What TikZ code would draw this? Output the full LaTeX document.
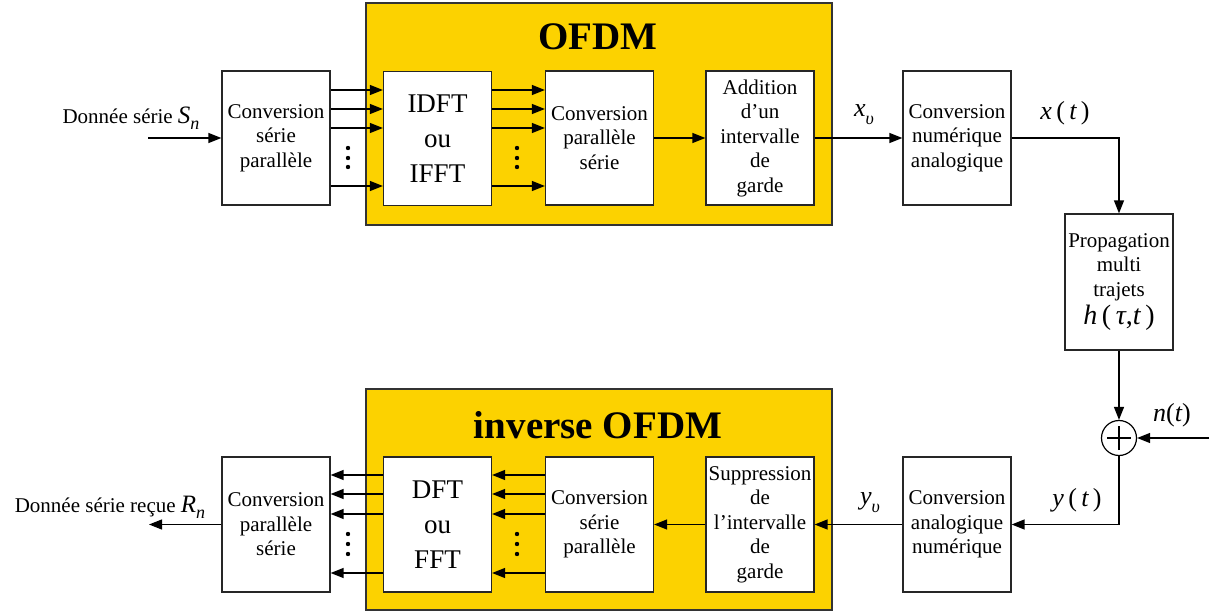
\documentclass[tikz,border=0pt]{standalone}
\usepackage{fontspec}
\setmainfont{Liberation Serif}
\usetikzlibrary{arrows.meta}
\definecolor{ofdmyellow}{RGB}{252,210,0}
\newcommand{\fs}[2]{\fontsize{#1}{#2}\selectfont}
\newcommand{\mysub}[1]{\raisebox{-0.3em}{\fs{18}{18}\itshape #1}}
\begin{document}
\begin{tikzpicture}[x=1pt,y=-1pt,
  blk/.style={draw=black!85, line width=1.2pt, fill=white, minimum width=108pt, minimum height=134pt, align=center, inner sep=0pt, font=\fs{21}{24.5}},
  big/.style={font=\fs{27}{35}},
  yel/.style={draw=black!80, line width=1.2pt, fill=ofdmyellow, minimum width=466pt, minimum height=222pt, inner sep=0pt},
  ttl/.style={font=\fs{39}{40}\bfseries, inner sep=0pt},
  arr/.style={line width=1.3pt, -{Triangle[length=13pt,width=10pt]}},
  lbl/.style={font=\fs{26}{27}, inner sep=0pt},
  txt/.style={font=\fs{21}{24}, inner sep=0pt},
  dot/.style={fill=black},
]
\useasboundingbox[fill=white] (0,0) rectangle (1211,612);

% ---------- emitter ----------
\node[yel] (ofdm) at (599,114) {};
\node[ttl] (t1) at (598,37) {OFDM};
\node[blk] (sp) at (276,138) {Conversion\\série\\parallèle};
\node[blk,big] (idft) at (437.5,138.5) {IDFT\\ou\\IFFT};
\node[blk] (ps) at (599.5,138) {Conversion\\parallèle\\série};
\node[blk] (add) at (760,138) {Addition\\d’un\\intervalle\\de\\garde};
\node[blk] (cna) at (957,138) {Conversion\\numérique\\analogique};
\node[blk, minimum height=136pt] (prop) at (1119,282) {Propagation\\multi\\trajets\\[4pt]{\fs{28}{30}\itshape h\,\upshape(\,\itshape τ\upshape,\itshape t\,\upshape)}};
\node[draw, circle, line width=1.2pt, minimum size=35pt, inner sep=0pt] (sum) at (1119,438) {};
\draw[line width=1.2pt] ([xshift=-12pt]sum.center) -- ([xshift=12pt]sum.center);
\draw[line width=1.2pt] ([yshift=-12pt]sum.center) -- ([yshift=12pt]sum.center);

% ---------- receiver ----------
\node[yel, minimum height=221pt] (iofdm) at (599,499.5) {};
\node[ttl] (t2) at (598,425) {inverse OFDM};
\node[blk, minimum height=135pt] (ps2) at (276,524.5) {Conversion\\parallèle\\série};
\node[blk, minimum height=135pt, big] (dft) at (437.5,524.5) {DFT\\ou\\FFT};
\node[blk, minimum height=135pt] (sp2) at (599.5,524.5) {Conversion\\série\\parallèle};
\node[blk, minimum height=135pt] (sup) at (760,524.5) {Suppression\\de\\l’intervalle\\de\\garde};
\node[blk, minimum height=135pt] (can) at (957,524.5) {Conversion\\analogique\\numérique};

% ---------- labels ----------
\node[txt] (lin) at (131,118) {Donnée série {\fs{25}{26}\itshape S}\mysub{n}};
\node[txt] (lout) at (110,507) {Donnée série reçue {\fs{25}{26}\itshape R}\mysub{n}};
\node[lbl] (lxv) at (864,115) {\itshape x\mysub{υ}};
\node[lbl] (lxt) at (1065,113) {\itshape x\,\upshape(\,\itshape t\,\upshape)};
\node[lbl] (lnt) at (1172,415) {\itshape n\upshape(\itshape t\upshape)};
\node[lbl] (lyt) at (1077,500) {\itshape y\,\upshape(\,\itshape t\,\upshape)};
\node[lbl] (lyv) at (870,503) {\itshape y\mysub{υ}};

% ---------- connectors ----------
\coordinate (in1) at (148,138);
\draw[arr] (in1) -- (sp);
\foreach \y in {90,109,128,186} {
  \draw[arr] (sp.east |- 0,\y) -- (idft.west |- 0,\y);
  \draw[arr] (idft.east |- 0,\y) -- (ps.west |- 0,\y);
}
\foreach \x in {348,517} {
  \foreach \y in {148,158,167} \fill[dot] (\x,\y) circle (2.2pt);
  \foreach \y in {534,544,554} \fill[dot] (\x,\y) circle (2.2pt);
}
\draw[arr] (ps) -- (add);
\draw[arr] (add) -- (cna);
\draw[arr] (cna.east) -| (prop.north);
\draw[arr] (prop) -- (sum);
\coordinate (nz) at (1209,438);
\draw[arr] (nz) -- (sum);
\draw[arr] (sum.south) |- (can.east);
\draw[arr] (can) -- (sup);
\draw[arr] (sup) -- (sp2);
\foreach \y in {475,494,514,573} {
  \draw[arr] (sp2.west |- 0,\y) -- (dft.east |- 0,\y);
  \draw[arr] (dft.west |- 0,\y) -- (ps2.east |- 0,\y);
}
\coordinate (out) at (149,524.5);
\draw[arr] (ps2) -- (out);
\end{tikzpicture}
\end{document}
